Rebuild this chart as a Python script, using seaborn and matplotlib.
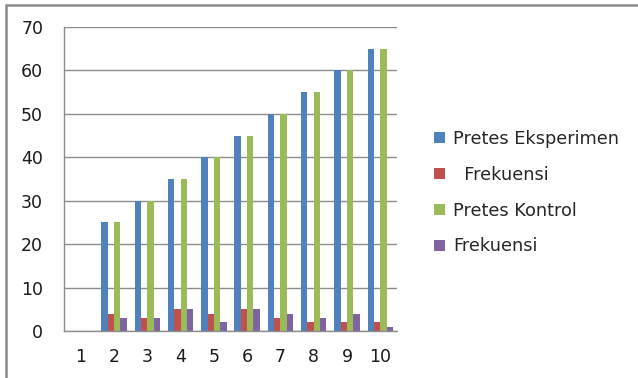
import matplotlib
matplotlib.use("Agg")
import matplotlib.pyplot as plt
from matplotlib.lines import Line2D
from matplotlib.patches import Patch
import numpy as np
import pandas as pd
import seaborn as sns

categories = ["1", "2", "3", "4", "5", "6", "7", "8", "9", "10"]
pretes_eksperimen = [0, 25, 30, 35, 40, 45, 50, 55, 60, 65]
frekuensi_eksperimen = [0, 4, 3, 5, 4, 5, 3, 2, 2, 2]
pretes_kontrol = [0, 25, 30, 35, 40, 45, 50, 55, 60, 65]
frekuensi_kontrol = [0, 3, 3, 5, 2, 5, 4, 3, 4, 1]

series_names = ["Pretes Eksperimen", "  Frekuensi", "Pretes Kontrol", "Frekuensi"]
series_values = [pretes_eksperimen, frekuensi_eksperimen, pretes_kontrol, frekuensi_kontrol]
colors = ["#4F81BD", "#C0504D", "#9BBB59", "#8064A2"]

rows = []
for name, vals in zip(series_names, series_values):
    for cat, v in zip(categories, vals):
        rows.append({"kategori": cat, "nilai": v, "seri": name})
df = pd.DataFrame(rows)

sns.set_style("white")
plt.rcParams["font.family"] = ["DejaVu Sans"]

fig = plt.figure(figsize=(6.38, 3.78), dpi=100)
W, H = 638, 378
ax = fig.add_axes([64 / W, 1 - 331 / H, (397 - 64) / W, (331 - 27) / H])

sns.barplot(data=df, x="kategori", y="nilai", hue="seri", order=categories,
            hue_order=series_names, palette=colors, width=0.76, gap=0,
            saturation=1, linewidth=0, ax=ax, legend=False)

ax.set_xlim(-0.5, len(categories) - 0.5)
ax.set_ylim(0, 70)
ax.set_yticks(np.arange(0, 71, 10))
ax.set_xlabel("")
ax.set_ylabel("")

grid_c = "#8C8C8C"
ax.yaxis.grid(True, color=grid_c, linewidth=1.0)
ax.set_axisbelow(True)
for s in ["top", "right"]:
    ax.spines[s].set_visible(False)
ax.spines["left"].set_color(grid_c)
ax.spines["bottom"].set_color(grid_c)
ax.spines["left"].set_linewidth(1.0)
ax.spines["bottom"].set_linewidth(1.0)

ax.set_xticks(np.arange(-0.5, len(categories), 1.0), minor=True)
ax.tick_params(axis="x", which="major", length=0, pad=12, labelsize=12.5, colors="#1a1a1a")
ax.tick_params(axis="x", which="minor", length=6, width=1.0, color=grid_c, direction="out")
ax.tick_params(axis="y", which="major", length=6, width=1.0, color=grid_c, direction="out",
               pad=9, labelsize=12.5, labelcolor="#1a1a1a")

handles = [Patch(facecolor=c, edgecolor="none") for c in colors]
fig.legend(handles, series_names, loc="upper left", bbox_to_anchor=(427 / W, 1 - 123 / H),
           frameon=False, fontsize=12.8, handlelength=0.6, handleheight=0.6,
           handletextpad=0.45, labelspacing=1.0, borderaxespad=0)

# outer chart frame (top and left edges)
fig.add_artist(Line2D([6 / W, 1.0], [1 - 5 / H, 1 - 5 / H], color="#8A8A8A", linewidth=1.8))
fig.add_artist(Line2D([6 / W, 6 / W], [0.0, 1 - 5 / H], color="#8A8A8A", linewidth=1.8))

fig.savefig("out.png", dpi=100, facecolor="white")
